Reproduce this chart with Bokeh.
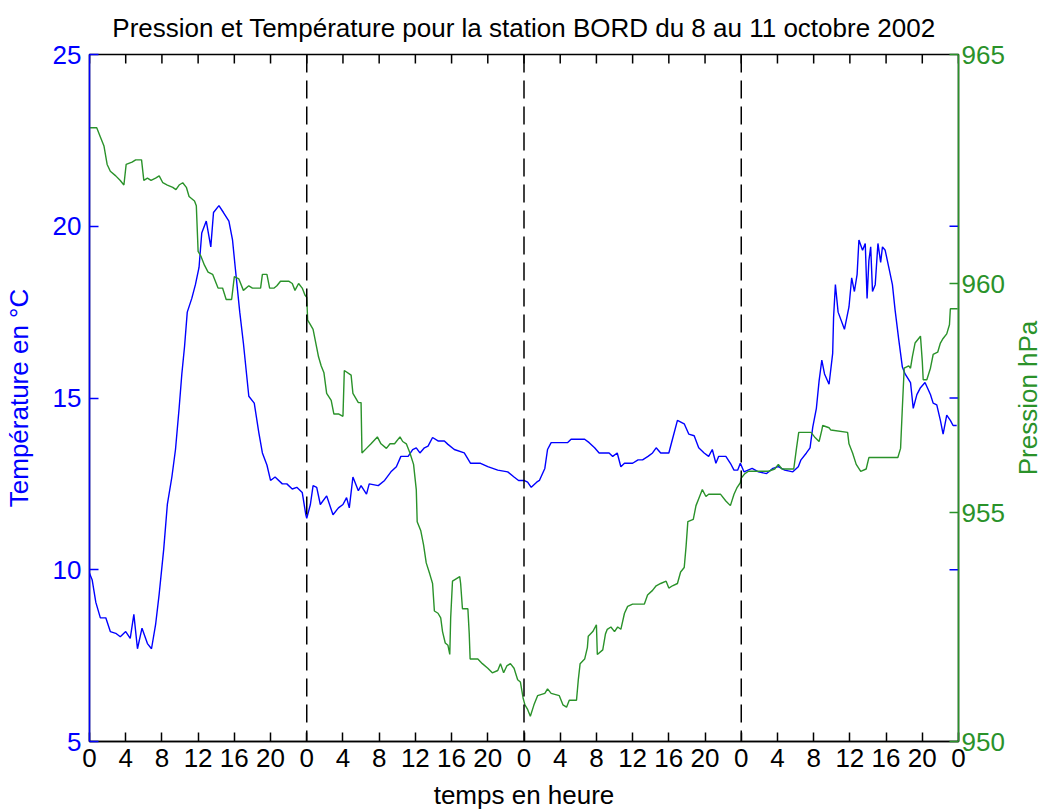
import math
from bokeh.plotting import figure
from bokeh.models import LinearAxis, Range1d, FixedTicker, Span, Label
from bokeh.embed import file_html
from bokeh.resources import INLINE

# ---------------- data ----------------
temp_hours = [0, 0.3, 0.7, 1.2, 1.8, 2.3, 2.9, 3.4, 4.0, 4.5, 4.9, 5.3, 5.8, 6.4, 6.85, 7.3, 7.7,
              8.2, 8.6, 9.1, 9.5, 9.9, 10.2, 10.5, 10.8, 11.3, 11.7, 12.1, 12.4, 12.9, 13.4, 13.7,
              14.3, 14.8, 15.4, 15.8, 16.1, 16.6, 17.0, 17.6, 18.2, 18.7, 19.1, 19.6, 20.0, 20.5,
              21.3, 21.8, 22.4, 22.9, 23.5, 23.9,
              24.0, 24.4, 24.7, 25.1, 25.5, 26.2, 26.9, 27.5, 28.0, 28.4, 28.7, 29.1, 29.7, 30.0,
              30.6, 30.9, 31.9, 32.6, 33.3, 33.9, 34.4, 35.2, 35.7, 36.1, 36.5, 37.0, 37.4, 37.9,
              38.5, 39.2, 39.6, 40.3, 41.4, 42.1, 43.2, 44.0, 45.1, 46.2, 46.9, 47.4,
              48.0, 48.4, 48.8, 49.4, 49.7, 50.3, 50.6, 51.0, 51.9, 52.8, 53.2, 54.7, 55.2, 55.8,
              56.3, 57.4, 57.8, 58.3, 58.7, 59.1, 60.0, 60.6, 61.1, 61.7, 62.2, 62.6, 63.1, 64.0,
              64.4, 64.95, 65.7, 66.2, 66.8, 67.3, 67.9, 68.4, 68.8, 69.2, 69.5, 70.3, 70.8, 71.2,
              71.6, 71.9,
              72.3, 73.2, 73.9, 74.8, 75.5, 76.1, 76.8, 77.7, 78.3, 78.6, 79.2, 79.6, 79.9, 80.3,
              80.6, 80.9, 81.2, 81.7, 82.1, 82.2, 82.4, 82.7, 83.4, 83.9, 84.2, 84.5, 84.8, 85.0,
              85.4, 85.7, 85.9, 86.1, 86.3, 86.5, 86.8, 87.1, 87.4, 87.6, 87.9, 88.3, 88.7, 89.0,
              89.4, 89.8, 90.1, 90.7, 91.0, 91.4, 91.8, 92.3, 92.9, 93.2, 93.6, 94.0, 94.3, 94.7,
              95.1, 95.4, 95.8]
temp_values = [9.9, 9.7, 9.05, 8.6, 8.6, 8.2, 8.15, 8.05, 8.2, 8.0, 8.7, 7.7, 8.3, 7.85, 7.7, 8.4, 9.3,
               10.6, 11.9, 12.7, 13.5, 14.7, 15.7, 16.5, 17.5, 17.9, 18.3, 18.8, 19.8, 20.15, 19.4, 20.4,
               20.6, 20.4, 20.15, 19.6, 18.8, 17.5, 16.6, 15.05, 14.85, 14.0, 13.4, 13.05, 12.6, 12.7,
               12.5, 12.5, 12.35, 12.4, 12.25, 11.6,
               11.5, 11.9, 12.45, 12.4, 11.9, 12.15, 11.6, 11.8, 11.9, 12.1, 11.8, 12.7, 12.3, 12.45,
               12.2, 12.5, 12.45, 12.6, 12.85, 13.0, 13.3, 13.3, 13.5, 13.55, 13.4, 13.55, 13.6, 13.85,
               13.75, 13.75, 13.65, 13.5, 13.4, 13.1, 13.1, 13.0, 12.9, 12.85, 12.7, 12.6,
               12.6, 12.55, 12.4, 12.55, 12.6, 12.95, 13.5, 13.7, 13.7, 13.7, 13.8, 13.8, 13.7, 13.55,
               13.4, 13.4, 13.3, 13.4, 13.0, 13.1, 13.1, 13.2, 13.2, 13.3, 13.4, 13.55, 13.4, 13.4,
               13.8, 14.35, 14.25, 13.95, 13.9, 13.55, 13.4, 13.3, 13.5, 13.1, 13.3, 13.3, 13.1, 12.9,
               12.9, 13.1,
               12.85, 12.95, 12.85, 12.8, 12.95, 13.0, 12.9, 12.85, 13.0, 13.2, 13.4, 13.55, 14.15, 14.7,
               15.5, 16.1, 15.7, 15.4, 16.3, 17.35, 18.3, 17.5, 17.0, 17.65, 18.5, 18.1, 18.6, 19.6,
               19.3, 19.5, 17.9, 19.0, 19.4, 18.1, 18.3, 19.5, 18.95, 19.4, 19.3, 18.8, 18.3, 17.55,
               16.7, 15.9, 15.7, 15.45, 14.7, 15.1, 15.3, 15.45, 15.1, 14.85, 14.8, 14.35, 13.95, 14.5,
               14.35, 14.2, 14.2]

pres_hours = [0, 0.8, 1.2, 1.6, 1.95, 2.3, 2.9, 3.4, 3.8, 4.05, 4.7, 5.1, 5.75, 6.0, 6.4, 6.8, 7.3,
              7.7, 8.1, 8.6, 9.2, 9.55, 9.9, 10.3, 10.7, 11.0, 11.6, 11.8, 12.0, 12.3, 12.7, 13.1,
              13.6, 14.2, 14.7, 15.1, 15.7, 16.0, 16.5, 17.0, 17.6, 18.0, 18.9, 19.1, 19.6, 19.9,
              20.4, 20.7, 21.1, 22.0, 22.4, 22.7, 23.1, 23.5, 23.8,
              24.0, 24.1, 24.4, 24.7, 25.1, 25.3, 25.6, 25.9, 26.2, 26.7, 27.0, 27.55, 28.0, 28.15,
              28.9, 29.1, 29.7, 30.0, 30.1, 30.6, 31.1, 31.8, 32.2, 32.8, 33.2, 33.7, 34.3, 34.6,
              35.0, 35.4, 35.8, 36.1, 36.2, 36.6, 36.9, 37.2, 37.6, 37.9, 38.1, 38.5, 38.8, 39.0,
              39.3, 39.6, 39.8, 39.9, 40.1, 40.5, 40.9, 41.0, 41.2, 41.8, 41.95, 42.05, 42.9, 43.4,
              44.0, 44.5, 45.1, 45.4, 45.75, 46.1, 46.5, 46.9, 47.3, 47.6, 47.9,
              48.1, 48.4, 48.7, 49.1, 49.5, 50.3, 50.6, 51.0, 51.9, 52.3, 52.7, 53.0, 53.8, 54.0,
              54.2, 54.7, 55.0, 55.1, 55.6, 56.0, 56.1, 56.7, 57.0, 57.2, 57.6, 58.0, 58.35, 58.7,
              59.1, 59.45, 60.0, 61.3, 61.65, 62.2, 62.6, 63.1, 63.7, 64.0, 64.4, 64.95, 65.3, 65.7,
              65.9, 66.1, 66.7, 67.0, 67.3, 67.7, 68.1, 68.4, 69.7, 70.3, 70.8, 71.2, 71.55, 71.9,
              72.0, 72.4, 72.8, 75.0, 75.7, 76.1, 76.5, 77.2, 77.8, 78.1, 78.35, 79.7, 80.1, 80.6,
              80.9, 81.0, 81.7, 81.9, 83.75, 83.9, 84.3, 84.7, 85.2, 85.8, 86.1, 89.3, 89.6, 89.8,
              90.0, 90.5, 90.7, 90.9, 91.2, 91.6, 91.8, 92.0, 92.1, 92.5, 92.9, 93.2, 93.7, 94.0,
              94.3, 94.7, 95.0, 95.1, 95.9]
pres_values = [963.4, 963.4, 963.2, 963.0, 962.6, 962.45, 962.35, 962.25, 962.15, 962.6, 962.65, 962.7,
               962.7, 962.25, 962.3, 962.25, 962.3, 962.35, 962.2, 962.15, 962.1, 962.05, 962.15, 962.2,
               962.1, 961.9, 961.8, 961.7, 960.7, 960.6, 960.4, 960.25, 960.2, 959.9, 959.9, 959.65,
               959.65, 960.15, 960.1, 959.85, 959.95, 959.9, 959.9, 960.2, 960.2, 959.9, 959.9, 959.95,
               960.05, 960.05, 960.0, 959.85, 960.0, 959.9, 959.75,
               959.7, 959.2, 959.1, 959.0, 958.6, 958.4, 958.2, 958.05, 957.6, 957.45, 957.15, 957.15,
               957.1, 958.1, 958.0, 957.6, 957.4, 957.4, 956.3, 956.4, 956.5, 956.65, 956.5, 956.4,
               956.5, 956.5, 956.65, 956.55, 956.5, 956.3, 956.05, 955.5, 954.8, 954.6, 954.3, 953.9,
               953.65, 953.45, 952.85, 952.8, 952.7, 952.4, 952.15, 952.1, 951.9, 952.7, 953.5, 953.55,
               953.6, 953.45, 952.9, 952.9, 952.35, 951.8, 951.8, 951.7, 951.6, 951.5, 951.55, 951.7,
               951.5, 951.65, 951.7, 951.6, 951.35, 951.3, 950.95,
               950.8, 950.7, 950.55, 950.8, 951.0, 951.05, 951.15, 951.05, 951.0, 950.8, 950.75, 950.9,
               950.9, 951.35, 951.7, 951.8, 952.05, 952.3, 952.4, 952.55, 951.9, 952.0, 952.35, 952.45,
               952.5, 952.4, 952.5, 952.45, 952.8, 952.95, 953.0, 953.0, 953.2, 953.3, 953.4, 953.45,
               953.5, 953.35, 953.4, 953.45, 953.7, 953.8, 954.25, 954.8, 954.85, 955.15, 955.3, 955.5,
               955.35, 955.4, 955.4, 955.25, 955.15, 955.4, 955.55, 955.65,
               955.75, 955.85, 955.9, 955.9, 955.95, 956.05, 955.95, 955.95, 955.95, 956.4, 956.75,
               956.75, 956.65, 956.55, 956.8, 956.9, 956.85, 956.8, 956.75, 956.5, 956.3, 956.05, 955.9,
               955.95, 956.2, 956.2, 956.4, 957.3, 958.15, 958.2, 958.15, 958.4, 958.7, 958.8, 958.85,
               958.3, 957.9, 957.9, 958.15, 958.45, 958.5, 958.7, 958.8, 958.9, 959.1, 959.45, 959.45]

x_ticks = [0, 4, 8, 12, 16, 20, 24, 28, 32, 36, 40, 44, 48, 52, 56, 60, 64, 68, 72, 76, 80, 84, 88, 92, 96]
x_tick_labels = ["0", "4", "8", "12", "16", "20", "0", "4", "8", "12", "16", "20", "0", "4", "8",
                 "12", "16", "20", "0", "4", "8", "12", "16", "20", "0"]
temp_ticks = [5, 10, 15, 20, 25]
pres_ticks = [950, 955, 960, 965]
day_limits = [24, 48, 72]

title_text = "Pression et Température pour la station BORD du 8 au 11 octobre 2002"
x_label = "temps en heure"
temp_label = "Température en °C"
pres_label = "Pression hPa"

# ---------------- style ----------------
BLUE = "#0000ff"
GREEN = "#2a922a"
FONT = "Liberation Sans"
FS = "26px"
FRAME_W, FRAME_H = 869, 687
TICK_LEN = 9
X0, X1 = 0, 96
T0, T1 = 5, 25

p = figure(frame_width=FRAME_W, frame_height=FRAME_H,
           x_range=Range1d(X0, X1), y_range=Range1d(T0, T1),
           output_backend="svg", toolbar_location=None,
           min_border_left=89, min_border_right=84, min_border_top=54, min_border_bottom=68)
p.extra_y_ranges = {"pres": Range1d(950, 965)}

p.title.text = title_text
p.title.align = "center"
p.title.vertical_align = "top"
p.title.text_font = FONT
p.title.text_font_size = FS
p.title.text_font_style = "normal"
p.title.text_color = "#000000"
p.title.standoff = 19

p.grid.visible = False
p.outline_line_color = "#000000"
p.outline_line_width = 1.5
p.background_fill_color = "white"
p.border_fill_color = "white"

xa = p.xaxis[0]
xa.ticker = FixedTicker(ticks=x_ticks)
xa.major_label_overrides = {t: l for t, l in zip(x_ticks, x_tick_labels)}
xa.axis_label = x_label
xa.major_tick_in = TICK_LEN
xa.major_tick_out = 0
xa.minor_tick_line_color = None
xa.axis_line_color = "#000000"
xa.axis_line_width = 1.5
xa.major_tick_line_color = "#000000"
xa.major_tick_line_width = 1.5
xa.major_label_text_font = FONT
xa.major_label_text_font_size = FS
xa.major_label_text_color = "#000000"
xa.major_label_standoff = 7
xa.axis_label_text_font = FONT
xa.axis_label_text_font_size = FS
xa.axis_label_text_font_style = "normal"
xa.axis_label_text_color = "#000000"
xa.axis_label_standoff = 10

ya = p.yaxis[0]
ya.ticker = FixedTicker(ticks=temp_ticks)
ya.axis_label = temp_label
ya.major_tick_in = TICK_LEN
ya.major_tick_out = 0
ya.minor_tick_line_color = None
ya.axis_line_color = BLUE
ya.axis_line_width = 1.5
ya.major_tick_line_color = BLUE
ya.major_tick_line_width = 1.5
ya.major_label_text_color = BLUE
ya.major_label_text_font = FONT
ya.major_label_text_font_size = FS
ya.major_label_standoff = 8
ya.axis_label_text_color = BLUE
ya.axis_label_text_font = FONT
ya.axis_label_text_font_size = FS
ya.axis_label_text_font_style = "normal"
ya.axis_label_standoff = 16

ra = LinearAxis(y_range_name="pres", ticker=FixedTicker(ticks=pres_ticks))
ra.major_tick_in = TICK_LEN
ra.major_tick_out = 0
ra.minor_tick_line_color = None
ra.axis_line_color = GREEN
ra.axis_line_width = 1.5
ra.major_tick_line_color = GREEN
ra.major_tick_line_width = 1.5
ra.major_label_text_color = GREEN
ra.major_label_text_font = FONT
ra.major_label_text_font_size = FS
ra.major_label_standoff = 3
p.add_layout(ra, "right")

# right axis title, reading bottom-to-top like the left one (placed in the right panel
# so that it is not clipped to the plot frame)
px_per_x = (X1 - X0) / FRAME_W
p.add_layout(Label(x=X1 + 69 * px_per_x, y=(T0 + T1) / 2, text=pres_label, angle=math.pi / 2,
                   text_align="center", text_baseline="middle", text_color=GREEN,
                   text_font=FONT, text_font_size=FS), "right")

# tick marks on the top edge of the box (MATLAB box style)
dy = TICK_LEN * (T1 - T0) / FRAME_H
p.segment(x0=x_ticks, x1=x_ticks, y0=[T1 - dy] * len(x_ticks), y1=[T1] * len(x_ticks),
          line_color="#000000", line_width=1.5)

# mirrored temperature ticks on the right edge of the box
dx = TICK_LEN * px_per_x
inner = [t for t in temp_ticks if t not in (T0, T1)]
p.segment(x0=[X1 - dx] * len(inner), x1=[X1] * len(inner), y0=inner, y1=inner,
          line_color=BLUE, line_width=1.5)

p.line(temp_hours, temp_values, line_color=BLUE, line_width=1.4)
p.line(pres_hours, pres_values, line_color=GREEN, line_width=1.4, y_range_name="pres")

for d in day_limits:
    p.add_layout(Span(location=d, dimension="height", line_color="#000000",
                      line_width=1.5, line_dash="18 8"))

open("out.html", "w").write(file_html(p, INLINE))
